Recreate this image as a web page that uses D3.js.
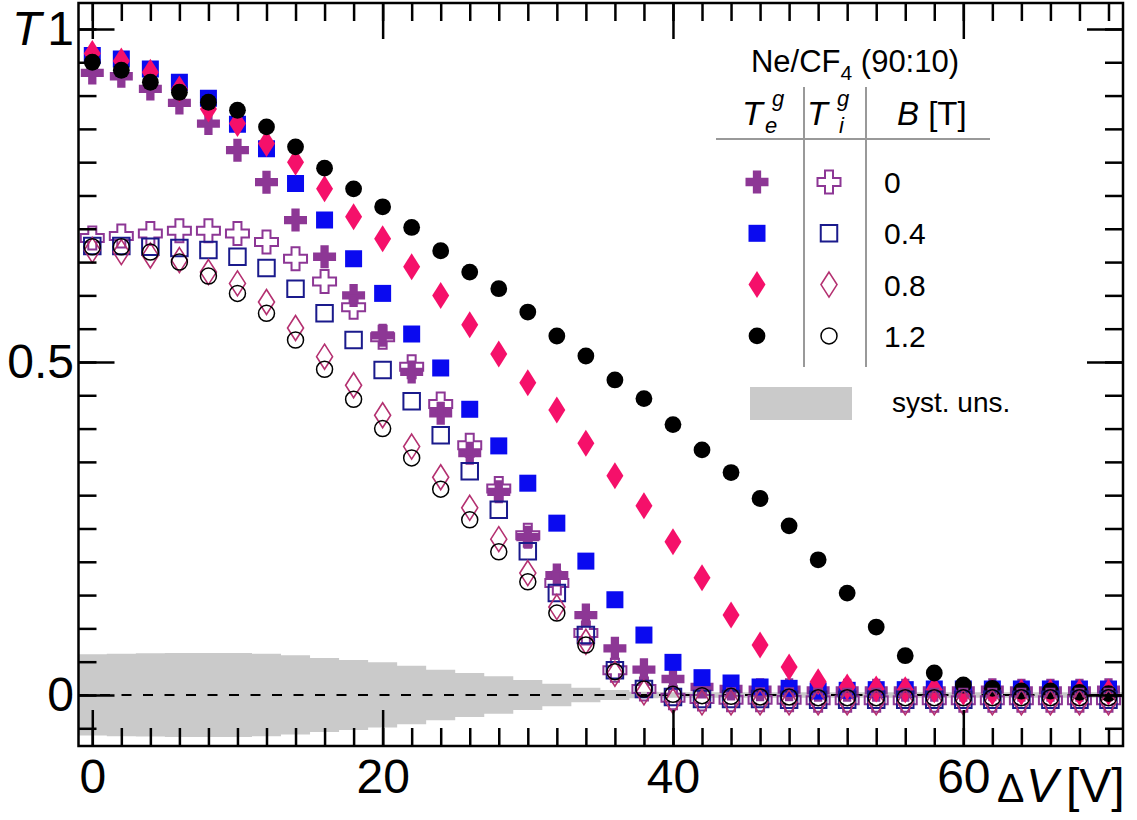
<!DOCTYPE html>
<meta charset="utf-8">
<html>
<head>
<script src="https://d3js.org/d3.v7.min.js"></script>
<style>
  body { margin: 0; background: #fff; }
  svg { font-family: "Liberation Sans", Arial, Helvetica, sans-serif; }
</style>
</head>
<body>
<div id="chart"></div>
<script>
// ---- data ----
const dV = [0, 2, 4, 6, 8, 10, 12, 14, 16, 18, 20, 22, 24, 26, 28, 30, 32, 34,
            36, 38, 40, 42, 44, 46, 48, 50, 52, 54, 56, 58, 60, 62, 64, 66, 68, 70];

// electron transparency T_e^g (filled markers)
const teB0  = [0.934, 0.929, 0.910, 0.889, 0.858, 0.818, 0.770, 0.713, 0.658, 0.600, 0.540,
               0.485, 0.423, 0.363, 0.305, 0.237, 0.180, 0.120, 0.070, 0.038, 0.024,
               0.012, 0.009, 0.008, 0.008, 0.007, 0.007, 0.007, 0.007, 0.007, 0.007,
               0.008, 0.007, 0.007, 0.007, 0.008];
const teB04 = [0.960, 0.955, 0.940, 0.920, 0.896, 0.857, 0.820, 0.768, 0.713, 0.655, 0.603,
               0.542, 0.491, 0.429, 0.374, 0.318, 0.258, 0.201, 0.143, 0.090, 0.049,
               0.026, 0.018, 0.012, 0.010, 0.006, 0.007, 0.008, 0.008, 0.009, 0.009,
               0.009, 0.009, 0.009, 0.009, 0.009];
const teB08 = [0.963, 0.952, 0.935, 0.910, 0.880, 0.858, 0.828, 0.800, 0.760, 0.718, 0.685,
               0.643, 0.600, 0.556, 0.512, 0.469, 0.428, 0.378, 0.329, 0.284, 0.230,
               0.176, 0.120, 0.075, 0.042, 0.020, 0.012, 0.009, 0.008, 0.008, 0.004,
               0.004, 0.004, 0.004, 0.004, 0.004];
const teB12 = [0.950, 0.938, 0.920, 0.905, 0.890, 0.878, 0.853, 0.823, 0.791, 0.760, 0.733,
               0.702, 0.667, 0.635, 0.610, 0.575, 0.539, 0.509, 0.473, 0.445, 0.406,
               0.368, 0.334, 0.295, 0.254, 0.203, 0.153, 0.102, 0.059, 0.033, 0.015,
               0.010, 0.006, 0.006, 0.004, 0.002];

// ion transparency T_i^g (open markers)
const tiB0  = [0.686, 0.689, 0.693, 0.697, 0.697, 0.693, 0.680, 0.655, 0.621, 0.582, 0.537,
               0.493, 0.437, 0.375, 0.310, 0.240, 0.168, 0.093, 0.037, 0.009, -0.004,
               -0.006, -0.007, -0.007, -0.007, -0.008, -0.008, -0.008, -0.008, -0.008, -0.008,
               -0.008, -0.008, -0.008, -0.008, -0.008];
const tiB04 = [0.674, 0.674, 0.673, 0.671, 0.668, 0.658, 0.641, 0.610, 0.573, 0.533, 0.488,
               0.441, 0.390, 0.336, 0.278, 0.216, 0.153, 0.090, 0.037, 0.009, -0.003,
               -0.006, -0.006, -0.006, -0.007, -0.007, -0.007, -0.007, -0.007, -0.007, -0.007,
               -0.007, -0.007, -0.007, -0.007, -0.007];
const tiB08 = [0.668, 0.665, 0.660, 0.653, 0.635, 0.618, 0.590, 0.551, 0.508, 0.465, 0.420,
               0.373, 0.327, 0.281, 0.234, 0.183, 0.132, 0.080, 0.032, 0.004, -0.009,
               -0.011, -0.011, -0.011, -0.011, -0.011, -0.011, -0.011, -0.011, -0.011, -0.011,
               -0.011, -0.011, -0.011, -0.011, -0.011];
const tiB12 = [0.673, 0.673, 0.665, 0.650, 0.629, 0.603, 0.573, 0.533, 0.489, 0.444, 0.400,
               0.356, 0.309, 0.263, 0.215, 0.170, 0.123, 0.075, 0.035, 0.009, 0.001,
               -0.001, -0.002, -0.003, -0.003, -0.004, -0.004, -0.004, -0.004, -0.004, -0.004,
               -0.004, -0.004, -0.004, -0.004, -0.004];

// half width of the systematic uncertainty band, one bin per dV point (bin width 2 V)
const systUns = [0.061, 0.062, 0.0625, 0.063, 0.063, 0.063, 0.062, 0.0595, 0.0555, 0.0525, 0.049,
                 0.044, 0.038, 0.033, 0.028, 0.0225, 0.017, 0.011, 0.0075, 0.005, 0.004,
                 0.004, 0.004, 0.004, 0.004, 0.004, 0.004, 0.004, 0.004, 0.004, 0.004,
                 0.004, 0.004, 0.004, 0.004, 0.004];

const bLabels = ["0", "0.4", "0.8", "1.2"];
const xMajor = [0, 20, 40, 60];
const xMinor = [0, 2, 4, 6, 8, 10, 12, 14, 16, 18, 20, 22, 24, 26, 28, 30, 32, 34,
                36, 38, 40, 42, 44, 46, 48, 50, 52, 54, 56, 58, 60, 62, 64, 66, 68, 70];
const yMajor = [0, 0.5, 1];
const yMinor = [-0.05, 0, 0.05, 0.1, 0.15, 0.2, 0.25, 0.3, 0.35, 0.4, 0.45, 0.5,
                0.55, 0.6, 0.65, 0.7, 0.75, 0.8, 0.85, 0.9, 0.95, 1];

// ---- marker shapes ----
function crossPath(s, w) {
    const a = s / 2, b = w / 2;
    return `M${-b},${-a}H${b}V${-b}H${a}V${b}H${b}V${a}H${-b}V${b}H${-a}V${-b}H${-b}Z`;
}
function squarePath(s) { return `M${-s / 2},${-s / 2}h${s}v${s}h${-s}Z`; }
function diamondPath(w, h) { return `M0,${-h / 2}L${w / 2},0L0,${h / 2}L${-w / 2},0Z`; }
function circlePath(r) { return `M${r},0A${r},${r} 0 1,1 ${-r},0A${r},${r} 0 1,1 ${r},0Z`; }

const purple = "#8d3795", blue = "#0a0af0", navy = "#1a1a8c",
      pink = "#f5106a", pinkDark = "#b43070";

const series = [
    { values: teB0,  d: crossPath(23, 8.3),   fill: purple, stroke: "none", sw: 0 },
    { values: teB04, d: squarePath(17),       fill: blue,   stroke: "none", sw: 0 },
    { values: teB08, d: diamondPath(17, 27),  fill: pink,   stroke: "none", sw: 0 },
    { values: teB12, d: circlePath(8.4),      fill: "#000", stroke: "none", sw: 0 },
    { values: tiB0,  d: crossPath(23, 8),     fill: "none", stroke: purple, sw: 2 },
    { values: tiB04, d: squarePath(16.5),     fill: "none", stroke: navy,   sw: 2 },
    { values: tiB08, d: diamondPath(16, 25),  fill: "none", stroke: pinkDark, sw: 1.6 },
    { values: tiB12, d: circlePath(8),        fill: "none", stroke: "#000", sw: 1.5 }
];

// ---- frame and scales ----
const W = 1137, H = 820;
const fLeft = 78.5, fRight = 1123, fTop = 3, fBottom = 746;

const svg = d3.select("#chart").append("svg")
    .attr("width", W).attr("height", H);

const x = d3.scaleLinear().domain([-0.95, 71]).range([fLeft, fRight]);
const y = d3.scaleLinear().domain([-0.0766, 1.039]).range([fBottom, fTop]);

svg.append("clipPath").attr("id", "clip")
    .append("rect").attr("x", fLeft).attr("y", fTop)
    .attr("width", fRight - fLeft).attr("height", fBottom - fTop);

const plot = svg.append("g").attr("clip-path", "url(#clip)");

// systematic band: each bin spans dV-1 .. dV+1
const bandPts = [];
dV.forEach((v, i) => {
    bandPts.push({ v: v - 1, h: systUns[i] });
    bandPts.push({ v: v + 1, h: systUns[i] });
});
plot.append("path")
    .datum(bandPts)
    .attr("fill", "#cacaca")
    .attr("d", d3.area().x(d => x(d.v)).y0(d => y(-d.h)).y1(d => y(d.h)));

// dashed zero line
plot.append("line")
    .attr("x1", fLeft).attr("x2", fRight)
    .attr("y1", y(0)).attr("y2", y(0))
    .attr("stroke", "#000").attr("stroke-width", 2)
    .attr("stroke-dasharray", "10,11.5");

// ---- axes (ROOT style, ticks inside) ----
function styleAxis(g) {
    g.select(".domain").remove();
    g.selectAll(".tick line").attr("stroke", "#000").attr("stroke-width", 2.5);
    g.selectAll(".tick text").attr("fill", "#000")
        .style("font-size", "48px").style("font-family", "'Liberation Sans', Arial, sans-serif");
}

svg.append("g").attr("transform", `translate(0,${fBottom})`)
    .call(d3.axisBottom(x).tickValues(xMinor).tickSize(-18).tickFormat(""))
    .call(styleAxis);
svg.append("g").attr("transform", `translate(0,${fBottom})`)
    .call(d3.axisBottom(x).tickValues(xMajor).tickSize(-36).tickPadding(13).tickFormat(d3.format("d")))
    .call(styleAxis);
svg.append("g").attr("transform", `translate(0,${fTop})`)
    .call(d3.axisTop(x).tickValues(xMinor).tickSize(-18).tickFormat(""))
    .call(styleAxis);
svg.append("g").attr("transform", `translate(0,${fTop})`)
    .call(d3.axisTop(x).tickValues(xMajor).tickSize(-36).tickFormat(""))
    .call(styleAxis);

svg.append("g").attr("transform", `translate(${fLeft},0)`)
    .call(d3.axisLeft(y).tickValues(yMinor).tickSize(-18).tickFormat(""))
    .call(styleAxis);
svg.append("g").attr("transform", `translate(${fLeft},0)`)
    .call(d3.axisLeft(y).tickValues(yMajor).tickSize(-36).tickPadding(4.5).tickFormat(d => String(d)))
    .call(styleAxis);
svg.append("g").attr("transform", `translate(${fRight},0)`)
    .call(d3.axisRight(y).tickValues(yMinor).tickSize(-18).tickFormat(""))
    .call(styleAxis);
svg.append("g").attr("transform", `translate(${fRight},0)`)
    .call(d3.axisRight(y).tickValues(yMajor).tickSize(-36).tickFormat(""))
    .call(styleAxis);

// frame
svg.append("rect")
    .attr("x", fLeft).attr("y", fTop)
    .attr("width", fRight - fLeft).attr("height", fBottom - fTop)
    .attr("fill", "none").attr("stroke", "#000").attr("stroke-width", 2.5);

// axis titles
svg.append("text").attr("x", 12).attr("y", 45)
    .style("font-size", "48px").style("font-style", "italic").text("T");

const xt = svg.append("text").attr("y", 802).style("font-size", "48px");
xt.append("tspan").attr("x", 997).style("font-size", "41px").text("Δ");
xt.append("tspan").attr("x", 1026).style("font-style", "italic").text("V");
xt.append("tspan").attr("x", 1066).text("[V]");

// ---- data points ----
series.forEach(s => {
    plot.append("g").selectAll("path")
        .data(s.values.map((t, i) => ({ v: dV[i], t: t })))
        .join("path")
        .attr("transform", d => `translate(${x(d.v)},${y(d.t)})`)
        .attr("d", s.d)
        .attr("fill", s.fill)
        .attr("stroke", s.stroke)
        .attr("stroke-width", s.sw);
});

// ---- legend ----
const lg = svg.append("g");

const title = lg.append("text").attr("x", 855).attr("y", 72)
    .attr("text-anchor", "middle").style("font-size", "31px");
title.append("tspan").text("Ne/CF");
title.append("tspan").attr("dy", 8).style("font-size", "21px").text("4");
title.append("tspan").attr("dy", -8).text(" (90:10)");

// column headers
function tHeader(xT, sub) {
    lg.append("text").attr("x", xT).attr("y", 125)
        .style("font-size", "34px").style("font-style", "italic").text("T");
    lg.append("text").attr("x", xT + 30).attr("y", 106)
        .style("font-size", "22px").style("font-style", "italic").text("g");
    lg.append("text").attr("x", xT + 23 + (sub === "i" ? 9 : 0)).attr("y", 133)
        .style("font-size", "22px").style("font-style", "italic").text(sub);
}
tHeader(742, "e");
tHeader(807, "i");
const bh = lg.append("text").attr("x", 897).attr("y", 125).style("font-size", "33px");
bh.append("tspan").style("font-style", "italic").text("B");
bh.append("tspan").text(" [T]");

lg.append("line").attr("x1", 716).attr("x2", 990).attr("y1", 139).attr("y2", 139)
    .attr("stroke", "#999").attr("stroke-width", 2);
[804, 866].forEach(xv => {
    lg.append("line").attr("x1", xv).attr("x2", xv).attr("y1", 87).attr("y2", 367)
        .attr("stroke", "#999").attr("stroke-width", 2);
});

const rowY = i => 182 + i * 51.3;
bLabels.forEach((lab, i) => {
    const fs = series[i], os = series[i + 4];
    lg.append("path").attr("transform", `translate(757,${rowY(i)})`)
        .attr("d", fs.d).attr("fill", fs.fill).attr("stroke", fs.stroke).attr("stroke-width", fs.sw);
    lg.append("path").attr("transform", `translate(829,${rowY(i)})`)
        .attr("d", os.d).attr("fill", os.fill).attr("stroke", os.stroke).attr("stroke-width", os.sw);
    lg.append("text").attr("x", 884).attr("y", rowY(i) + 11)
        .style("font-size", "30px").text(lab);
});

lg.append("rect").attr("x", 750).attr("y", 387).attr("width", 102).attr("height", 33)
    .attr("fill", "#cacaca");
lg.append("text").attr("x", 892).attr("y", 412).style("font-size", "28px").text("syst. uns.");
</script>
</body>
</html>
